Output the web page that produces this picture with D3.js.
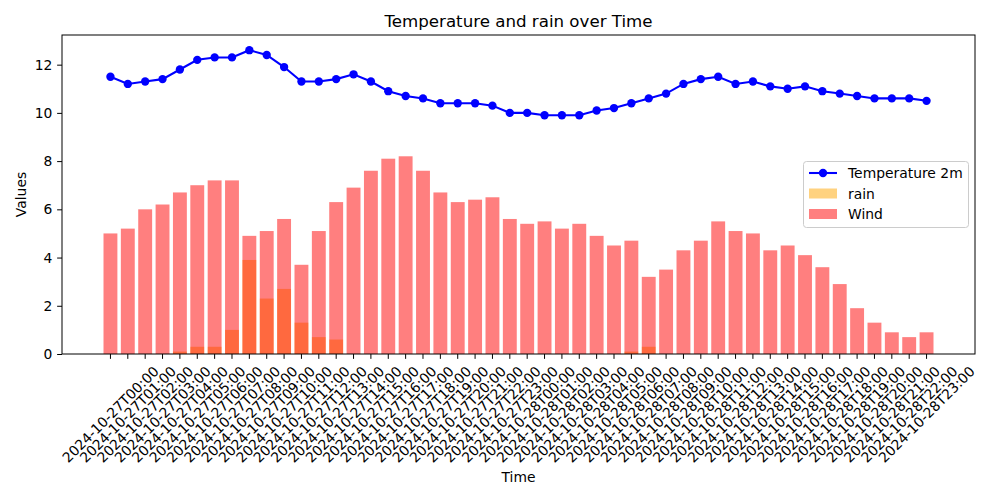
<!DOCTYPE html>
<html><head><meta charset="utf-8">
<script src="https://cdn.jsdelivr.net/npm/d3@7"></script>
<style>body{margin:0;background:#fff}svg{font-family:"DejaVu Sans",sans-serif}</style>
</head><body><svg id="c" width="1000" height="500"></svg>
<script>
const categories = [];
const days = ["2024-10-27","2024-10-28"];
for (const d of days) for (let h = 0; h < 24; h++) categories.push(d + "T" + String(h).padStart(2,"0") + ":00");
const temperature = [11.5,11.2,11.3,11.4,11.8,12.2,12.3,12.3,12.6,12.4,11.9,11.3,11.3,11.4,11.6,11.3,10.9,10.7,10.6,10.4,10.4,10.4,10.3,10.0,
  10.0,9.9,9.9,9.9,10.1,10.2,10.4,10.6,10.8,11.2,11.4,11.5,11.2,11.3,11.1,11.0,11.1,10.9,10.8,10.7,10.6,10.6,10.6,10.5];
const rain = [0,0,0,0,0.1,0.3,0.3,1.0,3.9,2.3,2.7,1.3,0.7,0.6,0,0,0,0,0,0,0,0,0,0,
  0,0,0,0,0,0,0.1,0.3,0,0,0,0,0,0,0,0,0,0,0,0,0,0,0,0];
const wind = [5.0,5.2,6.0,6.2,6.7,7.0,7.2,7.2,4.9,5.1,5.6,3.7,5.1,6.3,6.9,7.6,8.1,8.2,7.6,6.7,6.3,6.4,6.5,5.6,
  5.4,5.5,5.2,5.4,4.9,4.5,4.7,3.2,3.5,4.3,4.7,5.5,5.1,5.0,4.3,4.5,4.1,3.6,2.9,1.9,1.3,0.9,0.7,0.9];
const yTicks = [0,2,4,6,8,10,12];

const FS = 13.89, TL = 4.86;
const svg = d3.select("#c");
const L = 62, R = 975, T = 35, B = 354;
const n = categories.length;
const span = (n - 1) + 0.8;
const x = d3.scaleLinear().domain([-0.4 - 0.05*span, n - 1 + 0.4 + 0.05*span]).range([L, R]);
const ymax = d3.max(temperature.concat(wind, rain));
const y = d3.scaleLinear().domain([0, ymax * 1.05]).range([B, T]);
const bw = x(0.8) - x(0);

// bars
svg.append("g").selectAll("rect").data(rain).join("rect")
  .attr("x", (d,i) => x(i - 0.4)).attr("width", bw)
  .attr("y", d => y(d)).attr("height", d => y(0) - y(d))
  .attr("fill", "orange").attr("fill-opacity", 0.5);
svg.append("g").selectAll("rect").data(wind).join("rect")
  .attr("x", (d,i) => x(i - 0.4)).attr("width", bw)
  .attr("y", d => y(d)).attr("height", d => y(0) - y(d))
  .attr("fill", "red").attr("fill-opacity", 0.5);

// line
svg.append("path").datum(temperature)
  .attr("d", d3.line().x((d,i) => x(i)).y(d => y(d)))
  .attr("fill", "none").attr("stroke", "blue").attr("stroke-width", 2.08);
svg.append("g").selectAll("circle").data(temperature).join("circle")
  .attr("cx", (d,i) => x(i)).attr("cy", d => y(d)).attr("r", 4.17).attr("fill", "blue");

// axes frame
svg.append("rect").attr("x", L).attr("y", T).attr("width", R - L).attr("height", B - T)
  .attr("fill", "none").attr("stroke", "#000").attr("stroke-width", 1);

// y axis
const ya = svg.append("g").attr("transform", `translate(${L},0)`)
  .call(d3.axisLeft(y).tickValues(yTicks).tickFormat(d3.format("d")).tickSizeOuter(0).tickSize(TL).tickPadding(4.86));
ya.select(".domain").remove();
ya.selectAll("text").attr("font-size", FS).attr("font-family", "DejaVu Sans").attr("fill", "#000");
ya.selectAll("line").attr("stroke", "#000");

// x axis ticks
const xa = svg.append("g");
categories.forEach((c, i) => {
  xa.append("line").attr("x1", x(i)).attr("x2", x(i)).attr("y1", B).attr("y2", B + TL).attr("stroke", "#000");
  const t = xa.append("text").text(c).attr("font-size", FS).attr("text-anchor", "middle")
    .attr("dominant-baseline", "central");
  const bb = t.node().getBBox();
  const h = FS;
  const H = (bb.width + h) / Math.SQRT2;
  const cy = B + TL + 4.86 + H / 2;
  t.attr("transform", `translate(${x(i)},${cy}) rotate(-45)`);
});

// labels
svg.append("text").text("Temperature and rain over Time").attr("x", (L + R) / 2).attr("y", 27)
  .attr("text-anchor", "middle").attr("font-size", 16.67);
svg.append("text").text("Values").attr("transform", `translate(26,${(T + B) / 2}) rotate(-90)`)
  .attr("text-anchor", "middle").attr("font-size", FS);
svg.append("text").text("Time").attr("x", (L + R) / 2).attr("y", 482)
  .attr("text-anchor", "middle").attr("font-size", FS);

// legend
const lg = svg.append("g");
lg.append("rect").attr("x", 803.5).attr("y", 161.5).attr("width", 165).attr("height", 66).attr("rx", 3)
  .attr("fill", "#fff").attr("fill-opacity", 0.8).attr("stroke", "#ccc");
const items = [
  {label: "Temperature 2m", type: "line"},
  {label: "rain", type: "rect", color: "orange"},
  {label: "Wind", type: "rect", color: "red"}
];
items.forEach((it, k) => {
  const cy = 173 + k * 20.5;
  if (it.type === "line") {
    lg.append("line").attr("x1", 809).attr("x2", 837).attr("y1", cy).attr("y2", cy).attr("stroke", "blue").attr("stroke-width", 2.08);
    lg.append("circle").attr("cx", 823).attr("cy", cy).attr("r", 4.17).attr("fill", "blue");
  } else {
    lg.append("rect").attr("x", 809).attr("y", cy - 5).attr("width", 28).attr("height", 10)
      .attr("fill", it.color).attr("fill-opacity", 0.5);
  }
  lg.append("text").text(it.label).attr("x", 848).attr("y", cy).attr("dominant-baseline", "central")
    .attr("font-size", FS);
});
</script></body></html>
